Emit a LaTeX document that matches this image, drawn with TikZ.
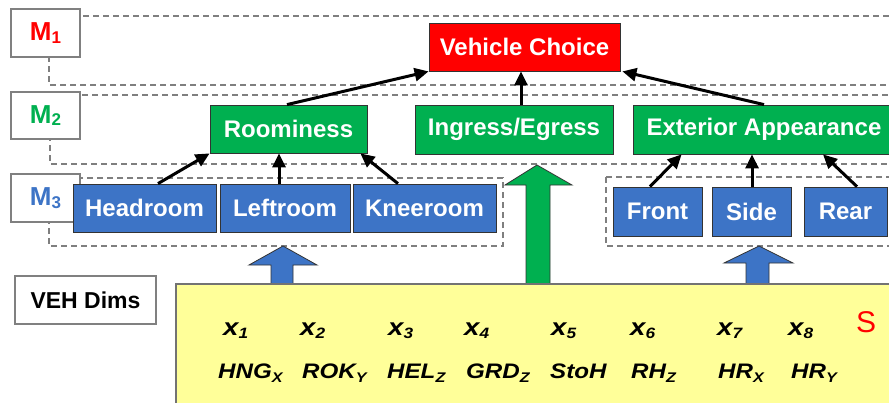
\documentclass[tikz,border=0pt]{standalone}
\usepackage{fontspec}
\setmainfont{Liberation Sans}
\newfontfamily\widesans[FakeStretch=1.15]{Liberation Sans}
\usetikzlibrary{arrows.meta}
\definecolor{mred}{HTML}{FF0000}
\definecolor{mgreen}{HTML}{00B050}
\definecolor{mblue}{HTML}{3D74C6}
\definecolor{dimfill}{HTML}{FFFF99}
\definecolor{bandgray}{HTML}{7F7F7F}
% lowered index: drop, size, text
\newcommand\dropsub[3]{\raisebox{-#1}{\fontsize{#2}{#2}\selectfont #3}}

\begin{document}
\begin{tikzpicture}[x=1pt,y=-1pt,
  box/.style={draw=black!80, line width=0.8pt, text=white,
    font=\fontsize{24}{28}\selectfont\bfseries, inner sep=0pt},
  redbox/.style={box, fill=mred},
  greenbox/.style={box, fill=mgreen},
  bluebox/.style={box, fill=mblue},
  levelbox/.style={draw=black!50, line width=1.2pt, fill=white, inner sep=0pt,
    minimum width=69pt, font=\fontsize{26}{30}\selectfont\bfseries},
  band/.style={draw=bandgray, line width=1.3pt, dash pattern=on 6pt off 4pt},
  link/.style={line width=3pt, -{Triangle[length=14pt,width=13pt]}},
  blockarrow/.style={draw=black!80, line width=0.8pt},
  dimsbox/.style={draw=black!55, line width=2.2pt, fill=dimfill, inner sep=0pt},
  var/.style={anchor=base west, inner sep=0pt,
    font=\widesans\bfseries\itshape\fontsize{21}{24}\selectfont},
  xvar/.style={var, font=\widesans\bfseries\itshape\fontsize{24}{26}\selectfont},
]
\useasboundingbox (0,0) rectangle (889,402);

% level bands
\draw[band] (49,16) rectangle (905,85);
\draw[band] (50,95) rectangle (905,164);
\draw[band] (49,178) rectangle (503,246);
\draw[band] (606,177) rectangle (905,246);

% block arrows rising from the dimension panel
\filldraw[blockarrow, fill=mblue]
  (271,286) -- (271,265) -- (249,265) -- (283,246) -- (317,265) -- (293,265) -- (293,286) -- cycle;
\filldraw[blockarrow, fill=mgreen]
  (526,286) -- (526,185) -- (505,185) -- (537,165) -- (572,185) -- (550,185) -- (550,286) -- cycle;
\filldraw[blockarrow, fill=mblue]
  (746,286) -- (746,263) -- (724,263) -- (759,246) -- (793,263) -- (769,263) -- (769,286) -- cycle;

% dimension panel
\node[dimsbox, anchor=north west, minimum width=730pt, minimum height=135pt] (dims) at (175,283) {};

% level labels
\node[levelbox, minimum height=48pt, text=mred] (m1) at (45.5,33) {M\dropsub{2.5pt}{17}{1}};
\node[levelbox, minimum height=47pt, text=mgreen] (m2) at (45.5,115.5) {M\dropsub{2.5pt}{17}{2}};
\node[levelbox, minimum height=48pt, text=mblue] (m3) at (45.5,198) {M\dropsub{2.5pt}{17}{3}};
\node[levelbox, minimum width=141pt, minimum height=48pt, font=\fontsize{23}{27}\selectfont\bfseries]
  (veh) at (85.5,300) {VEH Dims};

% M1
\node[redbox, minimum width=191pt, minimum height=48pt] (vc) at (524.5,47) {Vehicle Choice};
% M2
\node[greenbox, minimum width=157pt, minimum height=48pt] (room) at (288.5,129) {Roominess};
\node[greenbox, minimum width=198pt, minimum height=49pt] (ing) at (514,129.5) {Ingress/Egress};
\node[greenbox, minimum width=262pt, minimum height=49pt] (ext) at (764,129.5) {Exterior Appearance};
% M3
\node[bluebox, minimum width=143pt, minimum height=48pt] (head) at (144.5,208) {Headroom};
\node[bluebox, minimum width=130pt, minimum height=48pt] (leftr) at (285,208) {Leftroom};
\node[bluebox, minimum width=143pt, minimum height=48pt] (knee) at (424.5,208) {Kneeroom};
\node[bluebox, minimum width=89pt, minimum height=49pt] (front) at (657.5,211.5) {Front};
\node[bluebox, minimum width=79pt, minimum height=49pt] (side) at (751.5,211.5) {Side};
\node[bluebox, minimum width=83pt, minimum height=49pt] (rear) at (845.5,211.5) {Rear};

% links M2 -> M1
\draw[link] ([xshift=-1.5pt]room.north) -- (vc.south west);
\draw[link] ([xshift=7pt]ing.north) -- ([xshift=-3.5pt]vc.south);
\draw[link] (ext.north) -- ([xshift=2pt]vc.south east);
% links M3 -> M2
\draw[link] ([xshift=13.5pt]head.north) -- (room.south west);
\draw[link] ([xshift=-6pt]leftr.north) -- ([xshift=-6pt]leftr.north |- room.south);
\draw[link] ([xshift=-26.5pt]knee.north) -- ([xshift=-7pt]room.south east);
\draw[link] ([xshift=-7.5pt]front.north) -- ([xshift=49pt]ext.south west);
\draw[link] ([xshift=0.5pt]side.north) -- ([xshift=0.5pt]side.north |- ext.south);
\draw[link] ([xshift=11.5pt]rear.north) -- ([xshift=59pt]ext.south);

% design variables
\node[xvar] (x1) at (223,335) {x\dropsub{3pt}{15}{1}};
\node[xvar] (x2) at (300,335) {x\dropsub{3pt}{15}{2}};
\node[xvar] (x3) at (388,335) {x\dropsub{3pt}{15}{3}};
\node[xvar] (x4) at (464,335) {x\dropsub{3pt}{15}{4}};
\node[xvar] (x5) at (551,335) {x\dropsub{3pt}{15}{5}};
\node[xvar] (x6) at (630,335) {x\dropsub{3pt}{15}{6}};
\node[xvar] (x7) at (717,335) {x\dropsub{3pt}{15}{7}};
\node[xvar] (x8) at (788,335) {x\dropsub{3pt}{15}{8}};

\node[var] (d1) at (218,378) {HNG\dropsub{4pt}{14}{X}};
\node[var] (d2) at (302,378) {ROK\dropsub{4pt}{14}{Y}};
\node[var] (d3) at (387,378) {HEL\dropsub{4pt}{14}{Z}};
\node[var] (d4) at (466,378) {GRD\dropsub{4pt}{14}{Z}};
\node[var] (d5) at (550,378) {StoH};
\node[var] (d6) at (631,378) {RH\dropsub{4pt}{14}{Z}};
\node[var] (d7) at (718,378) {HR\dropsub{4pt}{14}{X}};
\node[var] (d8) at (791,378) {HR\dropsub{4pt}{14}{Y}};

\node[anchor=base west, inner sep=0pt, text=mred, font=\fontsize{30}{34}\selectfont] (s) at (856,332) {S};
\end{tikzpicture}
\end{document}
